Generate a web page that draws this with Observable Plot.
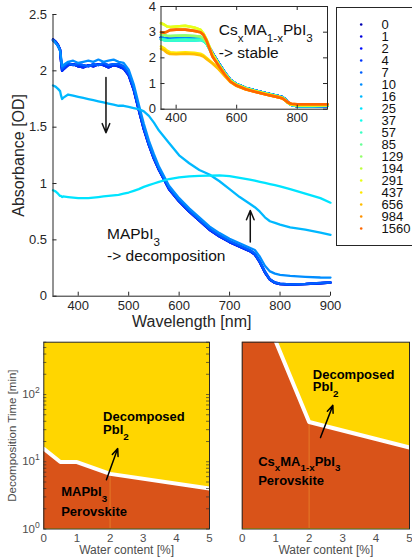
<!DOCTYPE html>
<html><head><meta charset="utf-8">
<script src="https://cdn.jsdelivr.net/npm/d3@7"></script>
<script src="https://cdn.jsdelivr.net/npm/@observablehq/plot@0.6"></script>
<style>
body{margin:0;background:#fff;}
#wrap{position:relative;width:412px;height:559px;overflow:hidden;background:#fff;}
</style></head><body><div id="wrap"></div>
<script>
// ---------- data ----------
const times = [0,1,2,4,7,10,16,25,37,57,85,129,194,291,437,656,984,1560];
const timeColors = ["#0000b3","#0000de","#000aff","#0036ff","#0061ff","#008dff","#00b8ff","#00e4ff","#11ffee","#3cffc3","#67ff97","#93ff6c","#beff40","#eaff15","#ffe800","#ffbd00","#ff9200","#ff6600"];

// main panel (MAPbI3)
const mainWl = [350,355,360,364,366,368,370,380,390,400,410,420,430,440,450,460,470,480,490,500,510,520,530,540,550,560,580,600,620,640,660,680,700,720,740,750,760,770,780,790,800,820,850,880,900];
const mainBlue = [2.28,2.26,2.23,2.19,2.08,2.0,2.01, 2.05,2.06,2.04,2.03,2.05,2.04,2.06,2.05,2.03,2.05,2.04,2.02, 1.96,1.83,1.65,1.48,1.34,1.22,1.12, 0.95,0.84,0.75,0.67,0.59,0.53,0.48,0.44,0.40, 0.37,0.30,0.21,0.145,0.118,0.108, 0.102,0.108,0.115,0.12];
const mainBlueB = [2.27,2.25,2.22,2.18,2.1,2.02,2.03, 2.07,2.05,2.06,2.05,2.04,2.06,2.05,2.07,2.05,2.06,2.06,2.04, 1.98,1.85,1.67,1.5,1.35,1.23,1.13, 0.96,0.85,0.76,0.68,0.6,0.54,0.49,0.45,0.41, 0.38,0.31,0.22,0.15,0.122,0.112, 0.105,0.11,0.118,0.122];
const main10 = [2.27,2.25,2.22,2.18,2.12,2.04,2.05, 2.08,2.09,2.07,2.08,2.09,2.08,2.1,2.08,2.09,2.1,2.08,2.07, 2.01,1.88,1.7,1.53,1.38,1.26,1.15, 0.98,0.87,0.78,0.7,0.62,0.56,0.51,0.47,0.43, 0.41,0.35,0.27,0.22,0.2,0.19, 0.18,0.172,0.166,0.165];
const main16 = [1.87,1.86,1.84,1.82,1.78,1.75,1.76, 1.79,1.78,1.77,1.76,1.75,1.74,1.73,1.72,1.71,1.70,1.69,1.69, 1.68,1.67,1.66,1.64,1.6,1.54,1.47, 1.36,1.25,1.18,1.12,1.08,1.02,0.95,0.88,0.82, 0.79,0.75,0.70,0.665,0.65,0.635, 0.61,0.59,0.565,0.545];
const main25 = [0.94,0.93,0.91,0.89,0.89,0.88,0.885, 0.88,0.875,0.87,0.87,0.87,0.875,0.88,0.885,0.89,0.895,0.9,0.91, 0.92,0.935,0.95,0.97,0.985,1.0,1.015, 1.04,1.055,1.063,1.068,1.07,1.072,1.065,1.05,1.035, 1.025,1.015,1.005,0.995,0.985,0.975, 0.95,0.91,0.87,0.83];
const mainSeries = [[0,mainBlue],[1,mainBlue],[2,mainBlueB],[4,mainBlue],[7,mainBlueB],[10,main10],[16,main16],[25,main25]];

// inset (CsxMA1-xPbI3)
const insWl = [350,360,370,380,400,430,460,480,490,500,520,540,560,580,600,630,660,700,740,750,760,770,780,800,850,900];
const insBlue   = [2.8,2.76,2.74,2.74,2.75,2.76,2.75,2.76,2.72,2.62,2.18,1.8,1.44,1.13,0.97,0.83,0.73,0.61,0.5,0.47,0.39,0.26,0.17,0.12,0.12,0.13];
const insCyan   = [2.72,2.7,2.68,2.68,2.69,2.7,2.69,2.7,2.66,2.56,2.14,1.77,1.42,1.12,0.96,0.82,0.72,0.6,0.49,0.46,0.38,0.25,0.17,0.13,0.13,0.14];
const insGreen  = [2.9,2.88,2.86,2.85,2.86,2.87,2.85,2.83,2.76,2.6,2.14,1.75,1.4,1.1,0.95,0.81,0.71,0.59,0.48,0.45,0.37,0.25,0.18,0.15,0.15,0.16];
const insLime   = [3.35,3.3,3.22,3.2,3.22,3.25,3.18,3.1,2.95,2.72,2.14,1.74,1.39,1.09,0.94,0.8,0.7,0.58,0.47,0.44,0.36,0.25,0.19,0.16,0.16,0.17];
const insYellow = [2.45,2.38,2.28,2.22,2.2,2.22,2.2,2.16,2.1,2.0,1.8,1.58,1.32,1.06,0.91,0.78,0.69,0.57,0.46,0.43,0.35,0.25,0.19,0.17,0.17,0.17];
const insAmber  = [2.35,2.3,2.2,2.15,2.14,2.16,2.14,2.1,2.05,1.96,1.78,1.56,1.3,1.05,0.9,0.77,0.68,0.56,0.46,0.43,0.35,0.25,0.2,0.18,0.18,0.18];
const insOrange = [3.0,2.98,3.02,3.08,3.1,3.1,3.05,3.0,2.9,2.68,2.05,1.7,1.36,1.07,0.92,0.78,0.68,0.56,0.46,0.43,0.35,0.26,0.21,0.19,0.19,0.19];
const insSeries = [[0,insBlue],[1,insBlue],[2,insBlue],[4,insBlue],[7,insBlue],[10,insBlue],[16,insCyan],[25,insCyan],[37,insCyan],[57,insCyan],[85,insGreen],[129,insGreen],[194,insLime],[291,insLime],[437,insYellow],[656,insAmber],[984,insOrange],[1560,insOrange]];

// phase diagrams
const leftWater = [0, 0.5, 1, 2, 5];
const leftTime  = [15.6, 9.9, 9.9, 6.6, 4.0];
const rightWater = [0, 1, 2, 5];
const rightTime  = [5000, 620, 39, 16.3];

// ticks
const mainXTicks = [400,500,600,700,800,900];
const mainYTicks = [0,0.5,1,1.5,2,2.5];
const insXTicks = [400,600,800];
const insYTicks = [0,1,2,3,4];
const waterTicks = [0,1,2,3,4,5];
const logMajor = [1,10,100];
const logAll = [1,2,3,4,5,6,7,8,9,10,20,30,40,50,60,70,80,90,100,200,300,400,500,600];

// ---------- helpers ----------
const FONT = "'Liberation Sans', Arial, Helvetica, sans-serif";
const AX = "#262626";
const YELLOW = "#FFD600", ORANGE = "#D95319";
const wrap = document.getElementById("wrap");
const colorScale = {type: "ordinal", domain: times, range: timeColors};
const st = (fs) => `background:transparent;overflow:visible;font:${fs}px ${FONT};color:${AX};`;

function richText(svg) {
  svg.querySelectorAll("text").forEach(el => {
    const s = el.textContent;
    if (!/[_^]\{/.test(s)) return;
    const fs = parseFloat(getComputedStyle(el).fontSize) || 13;
    el.textContent = "";
    const re = /([_^])\{([^}]*)\}|([^_^]+)/g;
    let m, shift = 0;
    while ((m = re.exec(s))) {
      const ts = document.createElementNS("http://www.w3.org/2000/svg", "tspan");
      if (m[3] !== undefined) {
        ts.textContent = m[3];
        if (shift) ts.setAttribute("dy", -shift);
        shift = 0;
      } else {
        const target = m[1] === "_" ? fs * 0.45 : -fs * 0.45;
        ts.textContent = m[2];
        ts.setAttribute("dy", target - shift);
        ts.setAttribute("font-size", (fs * 0.75).toFixed(1));
        shift = target;
      }
      el.appendChild(ts);
    }
  });
}
function mount(svg, left, top) {
  svg.style.position = "absolute";
  svg.style.left = left + "px";
  svg.style.top = top + "px";
  wrap.appendChild(svg);
  richText(svg);
}
const toRows = (series, grid) => series.flatMap(([t, vals]) => vals.map((v, i) => ({t, wl: grid[i], a: v})));
const label = (s, opts) => Plot.text([s], {text: d => d, textAnchor: "middle", lineAnchor: "middle", ...opts});

// ---------- main panel ----------
{
  const W = 340, H = 330, mL = 52.5, mR = 10, mT = 14, mB = 34.3;
  const iW = W - mL - mR, iH = H - mT - mB;
  const arrows = [{x1: 455, y1: 1.94, x2: 455, y2: 1.45}, {x1: 741, y1: 0.48, x2: 741, y2: 0.76}];
  const notes = [{x: 457, y: 0.555, s: "MAPbI_{3}"}, {x: 457, y: 0.353, s: "-> decomposition"}];
  const p = Plot.plot({
    width: W, height: H, marginLeft: mL, marginRight: mR, marginTop: mT, marginBottom: mB,
    style: st(13),
    x: {domain: [350, 900], ticks: mainXTicks, tickFormat: d => `${d}`, tickSize: 0, tickPadding: 5, label: null},
    y: {domain: [0, 2.5], ticks: mainYTicks, tickFormat: d => `${d}`, tickSize: 0, tickPadding: 6, label: null},
    color: colorScale,
    marks: [
      Plot.line(toRows(mainSeries, mainWl), {x: "wl", y: "a", z: "t", stroke: "t", strokeWidth: 2.3}),
      Plot.ruleX([350], {stroke: AX}),
      Plot.ruleY([0], {stroke: AX}),
      Plot.ruleX(mainXTicks, {x: d => d, insetTop: iH - 4, stroke: AX}),
      Plot.ruleY(mainYTicks, {y: d => d, insetRight: iW - 4, stroke: AX}),
      Plot.arrow(arrows, {x1: "x1", y1: "y1", x2: "x2", y2: "y2", stroke: "#111", strokeWidth: 1.5, headLength: 10, headAngle: 45}),
      Plot.text(notes, {x: "x", y: "y", text: "s", textAnchor: "start", fontSize: 15.5, fill: "#111"}),
      label("Wavelength [nm]", {frameAnchor: "bottom", dy: 26, fontSize: 16, fill: AX}),
      label("Absorbance [OD]", {frameAnchor: "left", rotate: -90, dx: -34, fontSize: 16, fill: AX})
    ]
  });
  mount(p, 0, 0);
}

// ---------- inset ----------
{
  const W = 200, H = 130, mL = 30.5, mR = 3, mT = 6, mB = 21.3;
  const iW = W - mL - mR, iH = H - mT - mB;
  const notes = [{x: 541, y: 3.08, s: "Cs_{x}MA_{1-x}PbI_{3}"}, {x: 541, y: 2.2, s: "-> stable"}];
  const p = Plot.plot({
    width: W, height: H, marginLeft: mL, marginRight: mR, marginTop: mT, marginBottom: mB,
    style: st(13),
    x: {domain: [350, 900], ticks: insXTicks, tickFormat: d => `${d}`, tickSize: 0, tickPadding: 4, label: null},
    y: {domain: [0, 4], ticks: insYTicks, tickFormat: d => `${d}`, tickSize: 0, tickPadding: 5, label: null},
    color: colorScale,
    marks: [
      Plot.frame({fill: "white", stroke: null}),
      Plot.line(toRows(insSeries, insWl), {x: "wl", y: "a", z: "t", stroke: "t", strokeWidth: 2.6}),
      Plot.ruleX(insXTicks, {x: d => d, insetTop: iH - 4, stroke: AX}),
      Plot.ruleX(insXTicks, {x: d => d, insetBottom: iH - 4, stroke: AX}),
      Plot.ruleY(insYTicks, {y: d => d, insetRight: iW - 4, stroke: AX}),
      Plot.ruleY(insYTicks, {y: d => d, insetLeft: iW - 4, stroke: AX}),
      Plot.text(notes, {x: "x", y: "y", text: "s", textAnchor: "start", fontSize: 15.5, fill: "#111"}),
      Plot.frame({stroke: AX})
    ]
  });
  mount(p, 130, 0);
}

// ---------- legend ----------
{
  const p = Plot.plot({
    width: 90, height: 240, marginLeft: 1, marginRight: 0.5, marginTop: 1, marginBottom: 1,
    style: st(13),
    x: {domain: [0, 90], range: [0, 90], axis: null},
    y: {type: "point", domain: times, range: [8.7, 231.5], axis: null},
    color: colorScale,
    marks: [
      Plot.frame({fill: "white", stroke: AX}),
      Plot.dot(times, {x: () => 25.7, y: d => d, fill: d => d, r: 1.3}),
      Plot.text(times, {x: () => 46, y: d => d, text: d => `${d}`, textAnchor: "start", fontSize: 13, fill: "#111"})
    ]
  });
  mount(p, 335, 6);
}

// ---------- bottom-left phase diagram ----------
{
  const W = 215, H = 229, mL = 43.3, mR = 6, mT = 11.7, mB = 30.5;
  const iW = W - mL - mR, iH = H - mT - mB;
  const rows = leftWater.map((w, i) => ({w, t: leftTime[i]}));
  const notes = [
    {x: 1.79, y: 46, s: "Decomposed"}, {x: 1.79, y: 29.5, s: "PbI_{2}"},
    {x: 0.525, y: 3.54, s: "MAPbI_{3}"}, {x: 0.525, y: 1.78, s: "Perovskite"}
  ];
  const p = Plot.plot({
    width: W, height: H, marginLeft: mL, marginRight: mR, marginTop: mT, marginBottom: mB,
    style: st(11.5) + "color:#4d4d4d;",
    x: {domain: [0, 5], ticks: waterTicks, tickFormat: d => `${d}`, tickSize: 0, tickPadding: 5, label: null},
    y: {type: "log", domain: [1, 600], ticks: logMajor, tickFormat: d => `10^{${Math.round(Math.log10(d))}}`, tickSize: 0, tickPadding: 4, label: null},
    marks: [
      Plot.frame({fill: YELLOW, stroke: null}),
      Plot.areaY(rows, {x: "w", y1: 1, y2: "t", fill: ORANGE}),
      Plot.ruleX([2], {y1: 1, y2: leftTime[leftWater.indexOf(2)] * 0.93, stroke: "#e9852c", strokeWidth: 0.8}),
      Plot.line(rows, {x: "w", y: "t", stroke: "white", strokeWidth: 4}),
      Plot.ruleY(logAll, {y: d => d, insetRight: iW - 3, stroke: "#333", strokeWidth: 0.7}),
      Plot.ruleY(logAll, {y: d => d, insetLeft: iW - 3, stroke: "#333", strokeWidth: 0.7}),
      Plot.arrow([{x1: 1.89, y1: 5.4, x2: 2.23, y2: 15.7}], {x1: "x1", y1: "y1", x2: "x2", y2: "y2", stroke: "#000", strokeWidth: 1.5, headLength: 8, headAngle: 45}),
      Plot.text(notes, {x: "x", y: "y", text: "s", textAnchor: "start", fontSize: 13, fontWeight: "bold", fill: "#000"}),
      Plot.frame({stroke: AX}),
      label("Water content [%]", {frameAnchor: "bottom", dy: 21.5, fontSize: 12, fill: "#4d4d4d"}),
      label("Decomposition Time [min]", {frameAnchor: "left", rotate: -90, dx: -31.3, fontSize: 11.5, fill: "#4d4d4d"})
    ]
  });
  mount(p, 0, 330);
}

// ---------- bottom-right phase diagram ----------
{
  const W = 197, H = 229, mL = 26.7, mR = 3, mT = 11.7, mB = 30.5;
  const rows = rightWater.map((w, i) => ({w, t: rightTime[i]}));
  const notes = [
    {x: 2.11, y: 199, s: "Decomposed"}, {x: 2.11, y: 128, s: "PbI_{2}"},
    {x: 0.478, y: 10.1, s: "Cs_{x}MA_{1-x}PbI_{3}"}, {x: 0.478, y: 5.16, s: "Perovskite"}
  ];
  const p = Plot.plot({
    width: W, height: H, marginLeft: mL, marginRight: mR, marginTop: mT, marginBottom: mB,
    style: st(11.5) + "color:#4d4d4d;",
    x: {domain: [0, 5], ticks: waterTicks, tickFormat: d => `${d}`, tickSize: 0, tickPadding: 5, label: null},
    y: {type: "log", domain: [1, 600], axis: null},
    marks: [
      Plot.frame({fill: YELLOW, stroke: null}),
      Plot.areaY(rows, {x: "w", y1: 1, y2: "t", fill: ORANGE, clip: true}),
      Plot.ruleX([2], {y1: 1, y2: rightTime[rightWater.indexOf(2)] * 0.93, stroke: "#e9852c", strokeWidth: 0.8}),
      Plot.line(rows, {x: "w", y: "t", stroke: "white", strokeWidth: 4, clip: true}),
      Plot.arrow([{x1: 2.34, y1: 22.9, x2: 2.71, y2: 69}], {x1: "x1", y1: "y1", x2: "x2", y2: "y2", stroke: "#000", strokeWidth: 1.5, headLength: 8, headAngle: 45}),
      Plot.text(notes, {x: "x", y: "y", text: "s", textAnchor: "start", fontSize: 13, fontWeight: "bold", fill: "#000"}),
      Plot.frame({stroke: AX}),
      label("Water content [%]", {frameAnchor: "bottom", dy: 21.5, fontSize: 12, fill: "#4d4d4d"})
    ]
  });
  mount(p, 215, 330);
}
</script>
</body></html>
